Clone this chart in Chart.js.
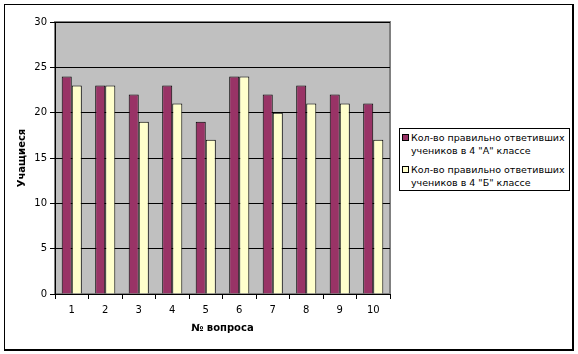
<!DOCTYPE html>
<html>
<head>
<meta charset="utf-8">
<script src="https://cdn.jsdelivr.net/npm/chart.js@4"></script>
<style>
	body { margin: 0; background: #fff; }
	.wrap { position: relative; width: 578px; height: 354px; }
	.frame { position: absolute; left: 4px; top: 4px; width: 567px; height: 344px; border: 1px solid #000; border-right-width: 2px; border-bottom-width: 2px; pointer-events: none; }
	#myChart { position: absolute; left: 0; top: 0; }
	.legend { position: absolute; left: 399px; top: 128px; width: 169px; height: 61px; border: 1px solid #000; background: #fff;
		font-family: "DejaVu Sans", Verdana, sans-serif; font-size: 9.5px; line-height: 13px; white-space: nowrap; }
	.legend__item { position: relative; padding-left: 11px; margin-top: 2px; }
	.legend__item + .legend__item { margin-top: 6px; }
	.legend__box { position: absolute; left: 2px; top: 3px; width: 5px; height: 5px; border: 1px solid #000; }
</style>
</head>
<body>
<div class="wrap">
	<canvas id="myChart" width="578" height="354"></canvas>
	<div class="frame"></div>
	<div class="legend" id="legend"></div>
</div>
<script>
const questions = ["1", "2", "3", "4", "5", "6", "7", "8", "9", "10"];
const classA = [24, 23, 22, 23, 19, 24, 22, 23, 22, 21];
const classB = [23, 23, 19, 21, 17, 24, 20, 21, 21, 17];
const seriesNames = [
	["Кол-во правильно ответивших", "учеников в 4 \"А\" классе"],
	["Кол-во правильно ответивших", "учеников в 4 \"Б\" классе"],
];
const seriesColors = ["#993366", "#FFFFCC"];

const FONT = { family: "'DejaVu Sans', Verdana, sans-serif", size: 10 };

// серый фон области построения
const plotBg = {
	id: "plotBg",
	beforeDraw(chart) {
		const { ctx, chartArea: a } = chart;
		ctx.save();
		ctx.fillStyle = "#C0C0C0";
		ctx.fillRect(a.left, a.top, a.right - a.left, a.bottom - a.top);
		ctx.strokeStyle = "#808080";
		ctx.lineWidth = 2;
		ctx.strokeRect(a.left, a.top, a.right - a.left, a.bottom - a.top);
		ctx.restore();
	},
};

const ctx = document.getElementById("myChart");

const myChart = new Chart(ctx, {
	type: "bar",
	plugins: [plotBg],
	data: {
		labels: questions,
		datasets: [
			{
				label: seriesNames[0].join(" "),
				data: classA,
				backgroundColor: seriesColors[0],
				borderColor: "#000",
				borderWidth: 1,
			},
			{
				label: seriesNames[1].join(" "),
				data: classB,
				backgroundColor: seriesColors[1],
				borderColor: "#000",
				borderWidth: 1,
			},
		],
	},
	options: {
		responsive: false,
		animation: false,
		layout: {
			padding: { left: 0, top: 22, right: 188, bottom: 0 },
		},
		datasets: {
			bar: { categoryPercentage: 0.6, barPercentage: 1 },
		},
		plugins: {
			legend: { display: false },
			tooltip: { enabled: false },
		},
		scales: {
			x: {
				offset: true,
				grid: { offset: true, drawOnChartArea: false, color: "#000", tickLength: 5 },
				border: { color: "#000", width: 1 },
				ticks: { color: "#000", font: FONT, padding: 5 },
				title: { display: true, text: "№ вопроса", color: "#000", font: { ...FONT, weight: "bold" }, padding: { top: 0, bottom: 20 } },
				afterFit(scale) { scale.height = 60; },
			},
			y: {
				min: 0,
				max: 30,
				ticks: { stepSize: 5, color: "#000", font: FONT, padding: 3 },
				grid: { color: "#000", tickLength: 5 },
				border: { color: "#000", width: 1 },
				title: { display: true, text: "Учащиеся", color: "#000", font: { ...FONT, weight: "bold" }, padding: { top: 16, bottom: 0 } },
				afterFit(scale) { scale.width = 55; },
			},
		},
	},
});

// легенда в рамке справа
const legend = document.getElementById("legend");
seriesNames.forEach((lines, i) => {
	const item = document.createElement("div");
	item.className = "legend__item";
	const box = document.createElement("span");
	box.className = "legend__box";
	box.style.background = seriesColors[i];
	item.appendChild(box);
	lines.forEach((line, j) => {
		if (j > 0) item.appendChild(document.createElement("br"));
		item.appendChild(document.createTextNode(line));
	});
	legend.appendChild(item);
});
</script>
</body>
</html>
